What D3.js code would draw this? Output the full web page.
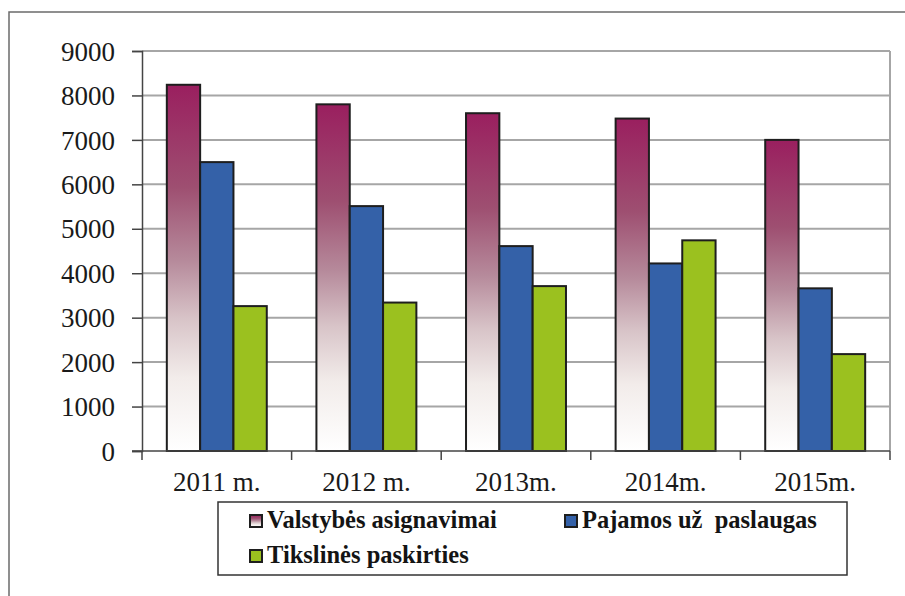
<!DOCTYPE html>
<html>
<head>
<meta charset="utf-8">
<script src="https://cdn.jsdelivr.net/npm/d3@7"></script>
<style>
  body { margin: 0; background: #fff; }
  svg { display: block; }
  text { font-family: "Liberation Serif", "Times New Roman", "DejaVu Serif", serif; }
</style>
</head>
<body>
<div id="chart"></div>
<script>
const fig_width = 905
const fig_height = 596

// data
const years = ['2011 m.', '2012 m.', '2013m.', '2014m.', '2015m.']
const series = ['Valstybės asignavimai', 'Pajamos už  paslaugas', 'Tikslinės paskirties']
const valstybes = [8240, 7800, 7600, 7480, 7000]
const pajamos = [6500, 5510, 4610, 4220, 3660]
const tikslines = [3260, 3340, 3710, 4740, 2180]
const y_ticks = [0, 1000, 2000, 3000, 4000, 5000, 6000, 7000, 8000, 9000]

const values = [valstybes, pajamos, tikslines]
const fills = ['url(#pinkGrad)', '#3461a8', '#9bc11f']

const plot = {left: 142, right: 890, top: 51, bottom: 451}

let svg = d3.select('#chart')
    .append('svg')
    .attr('width', fig_width)
    .attr('height', fig_height)

// gradient for the first series, dark magenta at top fading to white
let grad = svg.append('defs').append('linearGradient')
    .attr('id', 'pinkGrad')
    .attr('x1', 0).attr('y1', 0).attr('x2', 0).attr('y2', 1)
const grad_stops = [[0, '#9a1f5f'], [0.28, '#9e4f71'], [0.48, '#b68a9b'], [0.64, '#d8c4c8'], [0.8, '#f2ecea'], [1, '#ffffff']]
grad.selectAll('stop')
    .data(grad_stops)
    .join('stop')
    .attr('offset', d => d[0])
    .attr('stop-color', d => d[1])

// outer frame (runs off the right and bottom edges)
svg.append('path')
    .attr('d', `M9,${fig_height + 5} L9,12 L${fig_width + 5},12`)
    .attr('fill', 'none')
    .attr('stroke', '#6b6b6b')
    .attr('stroke-width', 1.5)

let x0 = d3.scaleBand()
    .domain(years)
    .range([plot.left, plot.right])

let x1 = d3.scaleBand()
    .domain(series)
    .range([0, x0.bandwidth()])
    .paddingOuter(0.745)

let y = d3.scaleLinear()
    .domain([0, 9000])
    .range([plot.bottom, plot.top])

// gridlines
svg.append('g')
    .selectAll('line')
    .data(y_ticks.filter(t => t > 0))
    .join('line')
    .attr('x1', plot.left)
    .attr('x2', plot.right)
    .attr('y1', d => y(d))
    .attr('y2', d => y(d))
    .attr('stroke', '#a6a6a6')
    .attr('stroke-width', 2)

// right border of plot area
svg.append('line')
    .attr('x1', plot.right).attr('x2', plot.right)
    .attr('y1', plot.top).attr('y2', plot.bottom)
    .attr('stroke', '#a6a6a6')
    .attr('stroke-width', 2)

// bars
let groups = svg.append('g')
    .selectAll('g')
    .data(years)
    .join('g')
    .attr('transform', d => `translate(${x0(d)},0)`)

groups.selectAll('rect')
    .data((d, i) => series.map((s, j) => ({s: s, j: j, v: values[j][i]})))
    .join('rect')
    .attr('x', d => x1(d.s))
    .attr('width', x1.bandwidth())
    .attr('y', d => y(d.v))
    .attr('height', d => y(0) - y(d.v))
    .attr('fill', d => fills[d.j])
    .attr('stroke', '#1e1e1e')
    .attr('stroke-width', 2)

// y axis
let yAxis = d3.axisLeft(y)
    .tickValues(y_ticks)
    .tickSize(10)
    .tickPadding(17)
    .tickFormat(d3.format('d'))

let ya = svg.append('g')
    .attr('transform', `translate(${plot.left},0)`)
    .call(yAxis)
ya.attr('font-family', null)
ya.select('.domain').attr('stroke', '#444').attr('stroke-width', 1.5)
ya.selectAll('.tick line').attr('stroke', '#444').attr('stroke-width', 1.5)
ya.selectAll('.tick text')
    .attr('font-size', 27)
    .attr('fill', '#1a1a1a')
    .attr('dy', '0.34em')

// x axis: ticks at category boundaries
svg.append('line')
    .attr('x1', plot.left - 10).attr('x2', plot.right)
    .attr('y1', plot.bottom).attr('y2', plot.bottom)
    .attr('stroke', '#444').attr('stroke-width', 1.5)

svg.append('g')
    .selectAll('line')
    .data(years.map(d => x0(d)).concat([plot.right]))
    .join('line')
    .attr('x1', d => d).attr('x2', d => d)
    .attr('y1', plot.bottom).attr('y2', plot.bottom + 9)
    .attr('stroke', '#444').attr('stroke-width', 1.5)

svg.append('g')
    .selectAll('text')
    .data(years)
    .join('text')
    .attr('x', d => x0(d) + x0.bandwidth() / 2)
    .attr('y', 491)
    .attr('text-anchor', 'middle')
    .attr('font-size', 27)
    .attr('fill', '#1a1a1a')
    .text(d => d)

// legend
let legend = svg.append('g')
legend.append('rect')
    .attr('x', 218).attr('y', 502)
    .attr('width', 629).attr('height', 73)
    .attr('fill', '#fff')
    .attr('stroke', '#333')
    .attr('stroke-width', 1.5)

let legend_pos = [[249, 528], [564, 528], [249, 563]]
let items = legend.selectAll('g.item')
    .data(series)
    .join('g')
    .attr('class', 'item')
    .attr('transform', (d, i) => `translate(${legend_pos[i][0]},${legend_pos[i][1]})`)

items.append('rect')
    .attr('x', 1).attr('y', -13)
    .attr('width', 12).attr('height', 12)
    .attr('fill', (d, i) => fills[i])
    .attr('stroke', '#1e1e1e')
    .attr('stroke-width', 2)

items.append('text')
    .attr('x', 18)
    .attr('y', 0)
    .attr('font-weight', 'bold')
    .attr('font-size', 24.5)
    .attr('fill', '#141414')
    .style('white-space', 'pre')
    .text(d => d)
</script>
</body>
</html>
